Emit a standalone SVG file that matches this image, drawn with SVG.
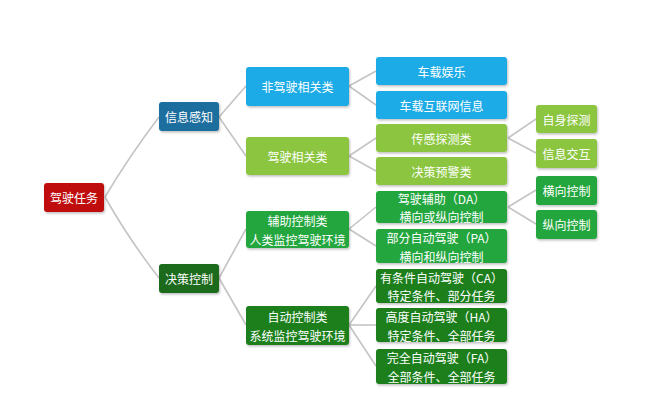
<svg xmlns="http://www.w3.org/2000/svg" width="648" height="401" viewBox="0 0 648 401">
<defs>
<filter id="sh" x="-10%" y="-20%" width="130%" height="150%">
<feDropShadow dx="1" dy="1.5" stdDeviation="1" flood-color="#000" flood-opacity="0.25"/>
</filter>
</defs>
<style>
.b{filter:url(#sh);}
.t{font-family:"Noto Sans CJK SC","Noto Sans",sans-serif;font-size:12px;fill:#fff;text-anchor:middle;dominant-baseline:central;}
.c path{fill:none;stroke:#c4c4c4;stroke-width:1.6;}
.red{fill:#bf1111;}
.dblue{fill:#1b6e9e;}
.dgreen1{fill:#1d6b1d;}
.sky{fill:#1aabe6;}
.lg{fill:#8cc63f;}
.mg{fill:#22a63c;}
.dg{fill:#1a7f1a;}
</style>
<rect width="648" height="401" fill="#fff"/>
<g id="connectors" class="c">
<path d="M105,197 Q128,158 159,117"/>
<path d="M105,197 Q128,238 159,278"/>
<path d="M219,117 L246,86"/>
<path d="M219,117 L246,156"/>
<path d="M219,278 L246,229"/>
<path d="M219,278 L246,325"/>
<path d="M349,86 L376,71"/>
<path d="M349,86 L376,105"/>
<path d="M349,156 L376,138"/>
<path d="M349,156 L376,171"/>
<path d="M349,229 L376,207"/>
<path d="M349,229 L376,246"/>
<path d="M349,325 L376,286"/>
<path d="M349,325 L376,325"/>
<path d="M349,325 L376,366"/>
<path d="M508,138 L536,119"/>
<path d="M508,138 L536,153"/>
<path d="M508,207 L536,190"/>
<path d="M508,207 L536,224"/>
</g>
<g id="n-root"><rect class="b red" x="44" y="183" width="60" height="29" rx="3"/><text class="t" x="74" y="197.5">驾驶任务</text></g>
<g id="n-xxgz"><rect class="b dblue" x="159" y="102" width="60" height="29" rx="3"/><text class="t" x="189" y="116.5">信息感知</text></g>
<g id="n-jckz"><rect class="b dgreen1" x="159" y="264" width="60" height="29" rx="3"/><text class="t" x="189" y="278.5">决策控制</text></g>
<g id="n-fjs"><rect class="b sky" x="246" y="67" width="103" height="39" rx="3"/><text class="t" x="297.5" y="86.5">非驾驶相关类</text></g>
<g id="n-js"><rect class="b lg" x="246" y="137" width="103" height="38" rx="3"/><text class="t" x="297.5" y="156">驾驶相关类</text></g>
<g id="n-fzkz"><rect class="b mg" x="246" y="211" width="103" height="37" rx="3"/><text class="t" x="297.5" y="220.5">辅助控制类</text><text class="t" x="297.5" y="239">人类监控驾驶环境</text></g>
<g id="n-zdkz"><rect class="b dg" x="246" y="306" width="103" height="39" rx="3"/><text class="t" x="297.5" y="316">自动控制类</text><text class="t" x="297.5" y="335">系统监控驾驶环境</text></g>
<g id="n-cyyl"><rect class="b sky" x="376" y="57" width="131" height="28" rx="3"/><text class="t" x="441.5" y="71">车载娱乐</text></g>
<g id="n-hlw"><rect class="b sky" x="376" y="91" width="131" height="28" rx="3"/><text class="t" x="441.5" y="105">车载互联网信息</text></g>
<g id="n-cgtc"><rect class="b lg" x="376" y="124" width="131" height="28" rx="3"/><text class="t" x="441.5" y="138">传感探测类</text></g>
<g id="n-jcyj"><rect class="b lg" x="376" y="157" width="131" height="28" rx="3"/><text class="t" x="441.5" y="171">决策预警类</text></g>
<g id="n-da"><rect class="b mg" x="376" y="191" width="131" height="32" rx="3"/><text class="t" x="441.5" y="198">驾驶辅助（DA）</text><text class="t" x="441.5" y="216">横向或纵向控制</text></g>
<g id="n-pa"><rect class="b mg" x="376" y="229" width="131" height="34" rx="3"/><text class="t" x="441.5" y="237">部分自动驾驶（PA）</text><text class="t" x="441.5" y="256">横向和纵向控制</text></g>
<g id="n-ca"><rect class="b dg" x="376" y="269" width="131" height="34" rx="3"/><text class="t" x="441.5" y="277">有条件自动驾驶（CA）</text><text class="t" x="441.5" y="295">特定条件、部分任务</text></g>
<g id="n-ha"><rect class="b dg" x="376" y="308" width="131" height="34" rx="3"/><text class="t" x="441.5" y="316">高度自动驾驶（HA）</text><text class="t" x="441.5" y="335">特定条件、全部任务</text></g>
<g id="n-fa"><rect class="b dg" x="376" y="349" width="131" height="35" rx="3"/><text class="t" x="441.5" y="357">完全自动驾驶（FA）</text><text class="t" x="441.5" y="376">全部条件、全部任务</text></g>
<g id="n-zstc"><rect class="b lg" x="536" y="105" width="61" height="28" rx="3"/><text class="t" x="566.5" y="119">自身探测</text></g>
<g id="n-xxjh"><rect class="b lg" x="536" y="139" width="61" height="29" rx="3"/><text class="t" x="566.5" y="153.5">信息交互</text></g>
<g id="n-hxkz"><rect class="b mg" x="536" y="176" width="61" height="29" rx="3"/><text class="t" x="566.5" y="190.5">横向控制</text></g>
<g id="n-zxkz"><rect class="b mg" x="536" y="210" width="61" height="29" rx="3"/><text class="t" x="566.5" y="224.5">纵向控制</text></g>
</svg>
